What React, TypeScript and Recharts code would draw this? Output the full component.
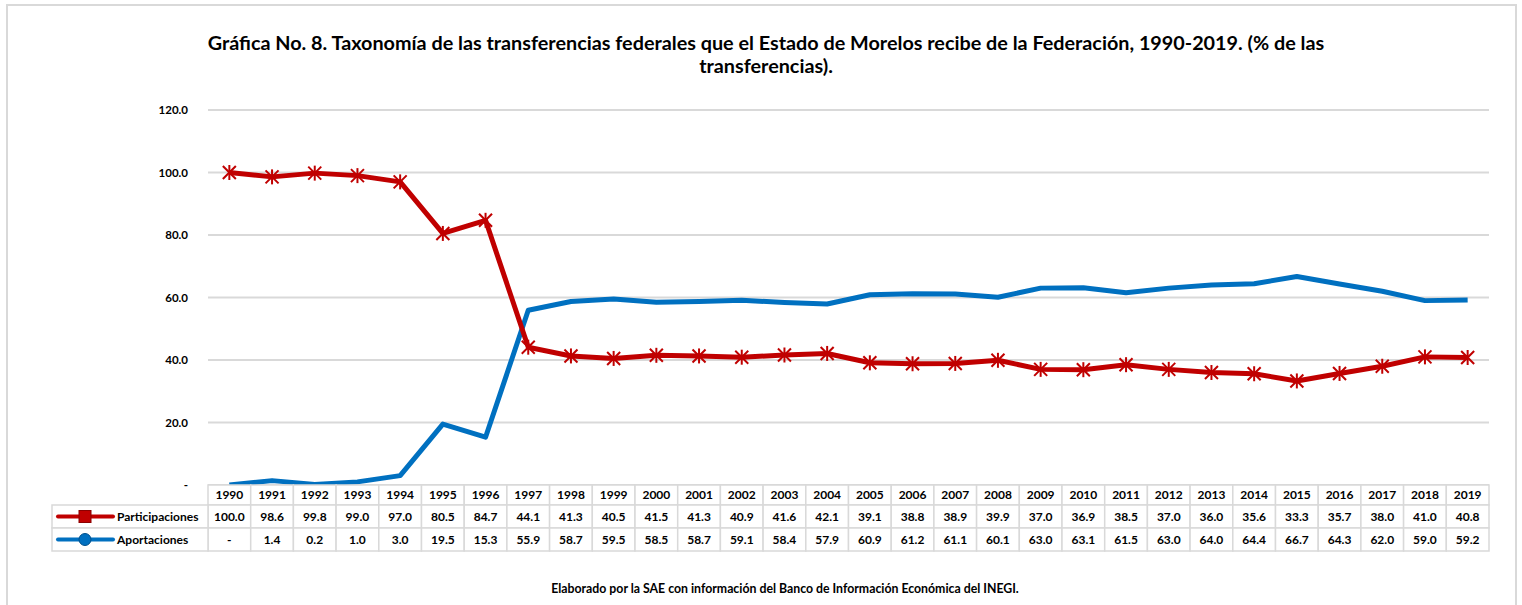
import React from 'react';
import { LineChart, Line, XAxis, YAxis, CartesianGrid } from 'recharts';

const years = ['1990','1991','1992','1993','1994','1995','1996','1997','1998','1999','2000','2001','2002','2003','2004','2005','2006','2007','2008','2009','2010','2011','2012','2013','2014','2015','2016','2017','2018','2019'];
const participaciones = [100.0, 98.6, 99.8, 99.0, 97.0, 80.5, 84.7, 44.1, 41.3, 40.5, 41.5, 41.3, 40.9, 41.6, 42.1, 39.1, 38.8, 38.9, 39.9, 37.0, 36.9, 38.5, 37.0, 36.0, 35.6, 33.3, 35.7, 38.0, 41.0, 40.8];
const aportaciones = [0, 1.4, 0.2, 1.0, 3.0, 19.5, 15.3, 55.9, 58.7, 59.5, 58.5, 58.7, 59.1, 58.4, 57.9, 60.9, 61.2, 61.1, 60.1, 63.0, 63.1, 61.5, 63.0, 64.0, 64.4, 66.7, 64.3, 62.0, 59.0, 59.2];
const yTicks = [0, 20, 40, 60, 80, 100, 120];
const seriesNames = ['Participaciones', 'Aportaciones'];

const RED = '#c00000';
const BLUE = '#0070c0';
const GRID = '#d9d9d9';
const FONT = 'Lato, "Open Sans", sans-serif';

const W = 1522;
const H = 605;
const M = { top: 110, right: 33, bottom: 50, left: 148 };
const Y_W = 60;
const X_H = 70;
const plotW = W - M.left - Y_W - M.right;
const step = plotW / years.length;

const data = years.map((y, i) => ({ year: y, p: participaciones[i], a: aportaciones[i] }));

const fmt = (v: number) => (v === 0 ? '-' : v.toFixed(1));

const Star = (props: any) => {
  const { cx, cy } = props;
  if (cx == null || cy == null) return null;
  const r = 6.5;
  return (
    <g stroke={RED} strokeWidth={2}>
      <line x1={cx - r} y1={cy - r} x2={cx + r} y2={cy + r} />
      <line x1={cx - r} y1={cy + r} x2={cx + r} y2={cy - r} />
      <line x1={cx} y1={cy - r - 1} x2={cx} y2={cy + r + 1} />
    </g>
  );
};

const H0 = 20;
const H1 = 23;
const LEG_W = 156;

const TableTick = (props: any) => {
  const { x, y, payload, index } = props;
  const i = index;
  const left = x - step / 2;
  const txt = { fontFamily: FONT, fontWeight: 700, fontSize: 12, fill: '#000', textAnchor: 'middle' as const };
  return (
    <g>
      <rect x={left} y={y} width={step} height={H0} fill="#fff" stroke={GRID} strokeWidth={1.5} />
      <rect x={left} y={y + H0} width={step} height={H1} fill="#fff" stroke={GRID} strokeWidth={1.5} />
      <rect x={left} y={y + H0 + H1} width={step} height={H1} fill="#fff" stroke={GRID} strokeWidth={1.5} />
      <text x={x} y={y + H0 / 2 + 4} {...txt}>{payload.value}</text>
      <text x={x} y={y + H0 + H1 / 2 + 4} {...txt}>{fmt(participaciones[i])}</text>
      <text x={x} y={y + H0 + H1 + H1 / 2 + 4} {...txt}>{fmt(aportaciones[i])}</text>
      {i === 0 && (
        <g>
          <rect x={left - LEG_W} y={y + H0} width={LEG_W} height={H1} fill="#fff" stroke={GRID} strokeWidth={1.5} />
          <rect x={left - LEG_W} y={y + H0 + H1} width={LEG_W} height={H1} fill="#fff" stroke={GRID} strokeWidth={1.5} />
          <line x1={left - LEG_W + 6} x2={left - LEG_W + 61} y1={y + H0 + H1 / 2} y2={y + H0 + H1 / 2} stroke={RED} strokeWidth={4} strokeLinecap="round" />
          <rect x={left - LEG_W + 27} y={y + H0 + H1 / 2 - 6} width={12} height={12} fill={RED} stroke="#8b0000" strokeWidth={1} />
          <text x={left - LEG_W + 65} y={y + H0 + H1 / 2 + 4} {...txt} textAnchor="start">{seriesNames[0]}</text>
          <line x1={left - LEG_W + 6} x2={left - LEG_W + 61} y1={y + H0 + H1 * 1.5} y2={y + H0 + H1 * 1.5} stroke={BLUE} strokeWidth={4} strokeLinecap="round" />
          <circle cx={left - LEG_W + 33} cy={y + H0 + H1 * 1.5} r={6} fill={BLUE} stroke="#004f8a" strokeWidth={1} />
          <text x={left - LEG_W + 65} y={y + H0 + H1 * 1.5 + 4} {...txt} textAnchor="start">{seriesNames[1]}</text>
        </g>
      )}
    </g>
  );
};

export default function App() {
  return (
    <div style={{ position: 'absolute', left: 0, top: 0, width: W, height: H, background: '#fff', overflow: 'hidden' }}>
      <div style={{ position: 'absolute', left: 6, top: 4, width: 1511, height: 640, border: `2px solid ${GRID}`, boxSizing: 'border-box' }} />
      <div style={{ position: 'absolute', left: 0, top: 0 }}>
        <LineChart width={W} height={H} data={data} margin={M}>
          <CartesianGrid horizontal vertical={false} stroke={GRID} strokeWidth={2} />
          <XAxis
            dataKey="year"
            height={X_H}
            axisLine={false}
            tickLine={false}
            tickSize={0}
            tickMargin={0}
            interval={0}
            padding={{ left: step / 2, right: step / 2 }}
            tick={<TableTick />}
          />
          <YAxis
            width={Y_W}
            domain={[0, 120]}
            ticks={yTicks}
            axisLine={false}
            tickLine={false}
            tickFormatter={fmt}
            tick={{ fontFamily: FONT, fontWeight: 700, fontSize: 11.5, fill: '#000' }}
            tickMargin={14}
          />
          <Line dataKey="a" stroke={BLUE} strokeWidth={5} dot={false} isAnimationActive={false} strokeLinejoin="round" />
          <Line dataKey="p" stroke={RED} strokeWidth={5} dot={<Star />} isAnimationActive={false} strokeLinejoin="round" />
        </LineChart>
      </div>
      <div style={{ position: 'absolute', left: 0, top: 31, width: 1532, textAlign: 'center', fontFamily: FONT, fontWeight: 700, fontSize: 19.8, lineHeight: '23px', color: '#000' }}>
        Gráfica No. 8. Taxonomía de las transferencias federales que el Estado de Morelos recibe de la Federación, 1990-2019. (% de las<br />transferencias).
      </div>
      <div style={{ position: 'absolute', left: 0, top: 581, width: 1570, textAlign: 'center', fontFamily: FONT, fontWeight: 700, fontSize: 12.3, color: '#000' }}>
        Elaborado por la SAE con información del Banco de Información Económica del INEGI.
      </div>
    </div>
  );
}
